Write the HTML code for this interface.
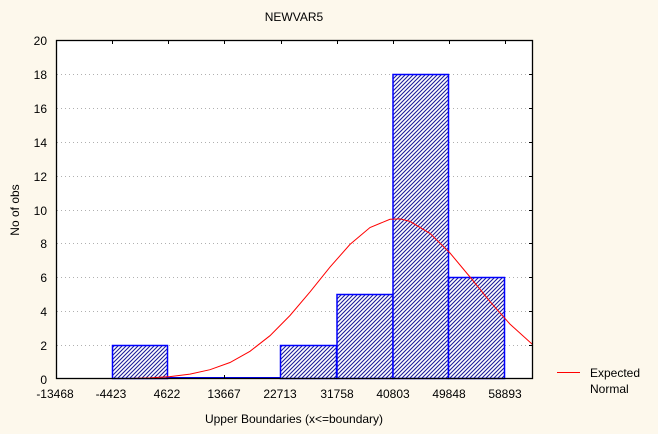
<!DOCTYPE html>
<html><head><meta charset="utf-8"><style>
html,body{margin:0;padding:0;background:#fdf8ec;}
svg{display:block;font-family:"Liberation Sans",sans-serif;font-size:12px;}
</style></head><body>
<svg width="658" height="434" viewBox="0 0 658 434">
<defs>
<pattern id="h" patternUnits="userSpaceOnUse" width="4" height="4">
<rect width="4" height="4" fill="#fff"/>
<path d="M-1,1 l2,-2 M0,4 l4,-4 M3,5 l2,-2" stroke="#1c1c9a" stroke-width="1.1"/>
</pattern>
<clipPath id="c"><rect x="56" y="40" width="477" height="339"/></clipPath>
</defs>
<rect width="658" height="434" fill="#fdf8ec"/>
<rect x="56.5" y="40.5" width="476" height="338" fill="#fff"/>
<g stroke="#b0b0b0" stroke-dasharray="1,3">
<line x1="57" y1="74.5" x2="532" y2="74.5"/>
<line x1="57" y1="108.5" x2="532" y2="108.5"/>
<line x1="57" y1="142.5" x2="532" y2="142.5"/>
<line x1="57" y1="176.5" x2="532" y2="176.5"/>
<line x1="57" y1="210.5" x2="532" y2="210.5"/>
<line x1="57" y1="243.5" x2="532" y2="243.5"/>
<line x1="57" y1="277.5" x2="532" y2="277.5"/>
<line x1="57" y1="311.5" x2="532" y2="311.5"/>
<line x1="57" y1="345.5" x2="532" y2="345.5"/>
</g>
<g fill="url(#h)" stroke="#0000ff" stroke-width="1.5">
<rect x="112.5" y="345.5" width="55" height="33"/>
<rect x="280.5" y="345.5" width="56" height="33"/>
<rect x="337" y="294.5" width="56" height="84"/>
<rect x="393" y="74.5" width="55.5" height="304"/>
<rect x="448.5" y="277.5" width="56" height="101"/>
</g>
<line x1="167" y1="378" x2="281" y2="378" stroke="#0000ff" stroke-width="2"/>
<polyline clip-path="url(#c)" fill="none" stroke="#ff0000" stroke-width="1" points="130,378.5 150,377.9 170,376.6 190,374.1 210,369.7 230,362.5 250,351.3 270,335.7 290,315.5 310,291.9 330,267.1 350,244.4 370,227.5 390,219.3 400,218.9 410,221.4 430,233.4 450,253 470,277 490,301.6 510,324.1 533,344.9"/>
<rect x="56.5" y="40.5" width="476" height="338" fill="none" stroke="#000" stroke-width="1.3"/>
<g stroke="#000">
<line x1="112.5" y1="41" x2="112.5" y2="44"/><line x1="168.5" y1="41" x2="168.5" y2="44"/><line x1="224.5" y1="41" x2="224.5" y2="44"/><line x1="281.5" y1="41" x2="281.5" y2="44"/><line x1="337.5" y1="41" x2="337.5" y2="44"/><line x1="393.5" y1="41" x2="393.5" y2="44"/><line x1="449.5" y1="41" x2="449.5" y2="44"/><line x1="505.5" y1="41" x2="505.5" y2="44"/>
<line x1="224.5" y1="375" x2="224.5" y2="378"/>
<line x1="529" y1="74.5" x2="532" y2="74.5"/><line x1="529" y1="108.5" x2="532" y2="108.5"/><line x1="529" y1="142.5" x2="532" y2="142.5"/><line x1="529" y1="176.5" x2="532" y2="176.5"/><line x1="529" y1="210.5" x2="532" y2="210.5"/><line x1="529" y1="243.5" x2="532" y2="243.5"/><line x1="529" y1="277.5" x2="532" y2="277.5"/><line x1="529" y1="311.5" x2="532" y2="311.5"/><line x1="529" y1="345.5" x2="532" y2="345.5"/>
</g>
<g text-anchor="end" fill="#000">
<text x="47" y="45">20</text><text x="47" y="79">18</text><text x="47" y="113">16</text><text x="47" y="147">14</text><text x="47" y="181">12</text><text x="47" y="215">10</text><text x="47" y="248">8</text><text x="47" y="282">6</text><text x="47" y="316">4</text><text x="47" y="350">2</text><text x="47" y="384">0</text>
</g>
<g text-anchor="middle" fill="#000">
<text x="55" y="398">-13468</text><text x="111" y="398">-4423</text><text x="167" y="398">4622</text><text x="224" y="398">13667</text><text x="280" y="398">22713</text><text x="337" y="398">31758</text><text x="393" y="398">40803</text><text x="449" y="398">49848</text><text x="505" y="398">58893</text>
<text x="294" y="21">NEWVAR5</text>
<text x="294" y="423">Upper Boundaries (x&lt;=boundary)</text>
<text transform="translate(19,210) rotate(-90)">No of obs</text>
</g>
<line x1="557" y1="372.5" x2="580" y2="372.5" stroke="#ff0000"/>
<text x="590" y="377">Expected</text>
<text x="590" y="393">Normal</text>
</svg>
</body></html>
